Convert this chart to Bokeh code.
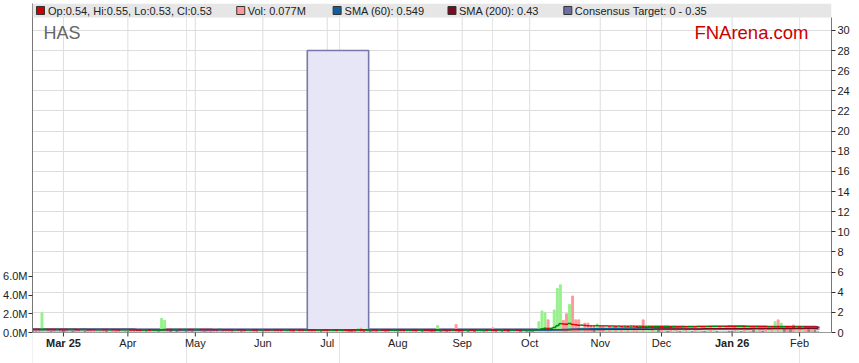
import numpy as np
import pandas as pd
from bokeh.plotting import figure
from bokeh.models import (LinearAxis, Range1d, FixedTicker, BoxAnnotation, Label,
                          CustomJSTickFormatter)
from bokeh.embed import file_html
from bokeh.resources import INLINE

# ---------------- data ----------------
START = "2025-02-17"   # first trading day shown (index 0, weekday axis)

month_tick_dates = ["2025-03-03", "2025-04-01", "2025-05-01", "2025-06-02", "2025-07-01",
                    "2025-08-01", "2025-09-01", "2025-10-01", "2025-11-03", "2025-12-01",
                    "2026-01-01", "2026-02-02"]
month_tick_labels = ["Mar 25", "Apr", "May", "Jun", "Jul", "Aug", "Sep", "Oct", "Nov",
                     "Dec", "Jan 26", "Feb"]
bold_labels = ["Mar 25", "Jan 26"]

# daily closes (A$)
close_feb25 = [0.30, 0.30, 0.29, 0.31, 0.32, 0.31, 0.31, 0.30, 0.31, 0.30]
close_mar25 = [0.30, 0.29, 0.30, 0.30, 0.29, 0.28, 0.29, 0.29, 0.28, 0.28, 0.27, 0.28, 0.28,
               0.27, 0.27, 0.28, 0.27, 0.27, 0.26, 0.27, 0.27]
close_apr25 = [0.27, 0.26, 0.26, 0.25, 0.24, 0.25, 0.25, 0.24, 0.25, 0.26, 0.26, 0.28, 0.30,
               0.29, 0.29, 0.30, 0.30, 0.29, 0.30, 0.30, 0.29, 0.29]
close_may25 = [0.30, 0.31, 0.30, 0.30, 0.29, 0.29, 0.28, 0.28, 0.29, 0.28, 0.28, 0.27, 0.27,
               0.28, 0.27, 0.27, 0.26, 0.27, 0.27, 0.26, 0.26, 0.27]
close_jun25 = [0.27, 0.26, 0.26, 0.27, 0.26, 0.26, 0.25, 0.26, 0.26, 0.25, 0.25, 0.26, 0.25,
               0.25, 0.26, 0.25, 0.25, 0.24, 0.25, 0.25, 0.24]
close_jul25 = [0.24, 0.25, 0.25, 0.24, 0.25, 0.25, 0.24, 0.24, 0.24, 0.24, 0.26, 0.25, 0.25,
               0.26, 0.26, 0.25, 0.25, 0.26, 0.25, 0.25, 0.24, 0.25, 0.25]
close_aug25 = [0.25, 0.24, 0.24, 0.25, 0.25, 0.24, 0.24, 0.25, 0.25, 0.24, 0.24, 0.24, 0.24,
               0.26, 0.26, 0.25, 0.25, 0.25, 0.26, 0.24, 0.24]
close_sep25 = [0.24, 0.25, 0.25, 0.24, 0.24, 0.25, 0.25, 0.25, 0.24, 0.25, 0.24, 0.24, 0.25,
               0.25, 0.24, 0.24, 0.25, 0.26, 0.25, 0.25, 0.26, 0.26]
close_oct25 = [0.26, 0.26, 0.27, 0.30, 0.36, 0.42, 0.40, 0.41, 0.50, 0.68, 0.88, 0.85, 0.82,
               0.90, 0.80, 0.76, 0.72, 0.73, 0.70, 0.67, 0.66, 0.66, 0.68]
close_nov25 = [0.66, 0.65, 0.66, 0.64, 0.65, 0.63, 0.64, 0.62, 0.63, 0.62, 0.64, 0.63, 0.62,
               0.63, 0.60, 0.61, 0.62, 0.61, 0.62, 0.62]
close_dec25 = [0.61, 0.62, 0.62, 0.60, 0.61, 0.60, 0.60, 0.61, 0.59, 0.60, 0.60, 0.59, 0.60,
               0.59, 0.59, 0.60, 0.58, 0.59, 0.59, 0.58, 0.59, 0.58, 0.58]
close_jan26 = [0.58, 0.57, 0.58, 0.58, 0.57, 0.58, 0.57, 0.57, 0.58, 0.57, 0.57, 0.56, 0.57,
               0.56, 0.58, 0.56, 0.57, 0.57, 0.56, 0.56, 0.55, 0.56]
close_feb26 = [0.55, 0.56, 0.55, 0.55, 0.54, 0.54, 0.53]

# daily volume (millions of shares)
vol_feb25 = [0.12, 0.08, 0.15, 2.10, 0.35, 0.18, 0.10, 0.22, 0.16, 0.20]
vol_mar25 = [0.25, 0.18, 0.12, 0.10, 0.20, 0.15, 0.08, 0.12, 0.18, 0.06, 0.10, 0.14, 0.05,
             0.09, 0.12, 0.08, 0.10, 0.07, 0.15, 0.11, 0.06]
vol_apr25 = [0.10, 0.12, 0.06, 0.15, 0.20, 0.12, 0.08, 0.10, 0.14, 0.18, 0.09, 1.50, 1.30,
             0.35, 0.20, 0.30, 0.25, 0.15, 0.22, 0.12, 0.18, 0.10]
vol_may25 = [0.30, 0.20, 0.15, 0.10, 0.18, 0.08, 0.12, 0.06, 0.10, 0.14, 0.05, 0.12, 0.08,
             0.10, 0.06, 0.09, 0.12, 0.07, 0.05, 0.10, 0.08, 0.06]
vol_jun25 = [0.08, 0.12, 0.05, 0.09, 0.14, 0.06, 0.10, 0.07, 0.05, 0.12, 0.08, 0.06, 0.10,
             0.05, 0.08, 0.11, 0.06, 0.09, 0.07, 0.10, 0.06]
vol_jul25 = [0.06, 0.10, 0.05, 0.12, 0.08, 0.06, 0.10, 0.12, 0.30, 0.08, 0.42, 0.45, 0.10,
             0.40, 0.15, 0.12, 0.08, 0.10, 0.06, 0.09, 0.12, 0.07, 0.05]
vol_aug25 = [0.08, 0.12, 0.06, 0.10, 0.05, 0.14, 0.08, 0.06, 0.10, 0.12, 0.07, 0.15, 0.09,
             0.75, 0.12, 0.10, 0.18, 0.06, 0.10, 0.85, 0.20]
vol_sep25 = [0.10, 0.08, 0.12, 0.06, 0.15, 0.10, 0.05, 0.08, 0.12, 0.07, 0.50, 0.10, 0.06,
             0.12, 0.09, 0.18, 0.10, 0.22, 0.08, 0.15, 0.12, 0.10]
vol_oct25 = [0.10, 0.15, 0.20, 1.15, 2.30, 2.10, 1.35, 0.30, 2.40, 4.70, 5.10, 1.30, 2.00,
             3.00, 3.90, 1.35, 1.35, 0.50, 1.00, 1.00, 0.60, 0.50, 0.90]
vol_nov25 = [0.60, 0.50, 0.40, 0.55, 0.30, 0.60, 0.35, 0.50, 0.30, 0.45, 0.50, 0.30, 0.40,
             0.25, 1.35, 0.30, 0.40, 0.35, 0.30, 0.25]
vol_dec25 = [0.30, 0.25, 0.15, 0.35, 0.20, 0.28, 0.12, 0.30, 0.22, 0.18, 0.10, 0.25, 0.20,
             0.15, 0.12, 0.20, 0.30, 0.18, 0.12, 0.08, 0.15, 0.10, 0.12]
vol_jan26 = [0.15, 0.20, 0.25, 0.10, 0.30, 0.20, 0.15, 0.25, 0.30, 0.20, 0.15, 0.35, 0.20,
             0.30, 1.15, 1.35, 1.00, 0.30, 0.60, 0.25, 0.80, 0.40]
vol_feb26 = [0.50, 0.40, 0.45, 0.30, 0.35, 0.20, 0.077]

# consensus target (step): start date and level
cons_dates = ["2025-02-17", "2025-06-23", "2025-07-21"]
cons_values = [0.35, 28.0, 0.35]

legend_texts = ["Op:0.54, Hi:0.55, Lo:0.53, Cl:0.53", "Vol: 0.077M", "SMA (60): 0.549",
                "SMA (200): 0.43", "Consensus Target: 0 - 0.35"]
legend_colors = ["#CC0000", "#FF9999", "#0F5FA0", "#7A0A20", "#6E6EA6"]

# ---------------- assemble ----------------
close = np.array(close_feb25 + close_mar25 + close_apr25 + close_may25 + close_jun25 +
                 close_jul25 + close_aug25 + close_sep25 + close_oct25 + close_nov25 +
                 close_dec25 + close_jan26 + close_feb26)
vol = np.array(vol_feb25 + vol_mar25 + vol_apr25 + vol_may25 + vol_jun25 + vol_jul25 +
               vol_aug25 + vol_sep25 + vol_oct25 + vol_nov25 + vol_dec25 + vol_jan26 +
               vol_feb26) * 1e6
N = min(len(close), len(vol))
close, vol = close[:N], vol[:N]
xi = np.arange(N)

def bidx(d):
    return int(np.busday_count(START, d))

tick_idx = [bidx(d) for d in month_tick_dates]

prev = np.concatenate([[close[0]], close[:-1]])
diff = close - prev
UP, DN = "#008800", "#DD0000"
bar_cols, line_cols = [], []
last = DN
for d in diff:
    if d > 1e-9:
        bar_cols.append("#96F08C"); last = UP
    elif d < -1e-9:
        bar_cols.append("#FF9999"); last = DN
    else:
        bar_cols.append("#888888")
    line_cols.append(last)

sma60 = pd.Series(close).rolling(60, min_periods=1).mean().values
sma200 = pd.Series(close).rolling(200, min_periods=1).mean().values

# ---------------- geometry ----------------
W, H = 859, 363
FL, FR, FT = 31, 831, 3          # frame left / right / top (px)
BASE = 332                       # pixel row of the value-0 baseline
PX_PER_PRICE = 329 / 32.67
PX_PER_VOL = 329 / 35.19e6
X0, X1 = -0.09, 260.4
Y0, Y1 = -(H - BASE) / PX_PER_PRICE, (BASE - FT) / PX_PER_PRICE
V0, V1 = -(H - BASE) / PX_PER_VOL, (BASE - FT) / PX_PER_VOL

def X(px):
    return X0 + (px - FL) * (X1 - X0) / (FR - FL)

def Y(py):
    return (BASE - py) / PX_PER_PRICE

FONT = "Liberation Sans"

p = figure(width=W, height=H, output_backend="svg", toolbar_location=None,
           x_range=Range1d(X0, X1), y_range=Range1d(Y0, Y1), y_axis_location="right",
           x_axis_location=None,
           min_border_left=FL, min_border_right=W - FR, min_border_top=FT,
           min_border_bottom=0, outline_line_color=None,
           background_fill_color="white", border_fill_color="white")
p.extra_y_ranges = {"vol": Range1d(V0, V1)}

def style_axis(ax, standoff):
    ax.major_label_text_font_size = "11px"
    ax.major_label_text_font = FONT
    ax.major_label_text_color = "#222222"
    ax.major_tick_out = 4
    ax.major_tick_in = 0
    ax.minor_tick_out = 0
    ax.minor_tick_in = 0
    ax.major_label_standoff = standoff
    ax.major_tick_line_color = "#333333"

# right (price) axis
ra = p.yaxis[0]
ra.ticker = FixedTicker(ticks=list(range(0, 31, 2)))
ra.bounds = (0, Y(17))
style_axis(ra, 2)
ra.axis_line_color = "#777777"

# left (volume) axis
la = LinearAxis(y_range_name="vol", ticker=FixedTicker(ticks=[0, 2e6, 4e6, 6e6]),
                formatter=CustomJSTickFormatter(code="return (tick/1e6).toFixed(1) + 'M';"),
                bounds=(0, V1))
style_axis(la, 1)
la.axis_line_color = "#777777"
p.add_layout(la, "left")

p.ygrid.grid_line_color = "#DDDDDD"
p.ygrid.ticker = FixedTicker(ticks=list(range(2, 31, 2)))

# vertical month grid lines
p.segment(x0=tick_idx, y0=[0] * len(tick_idx), x1=tick_idx, y1=[Y1] * len(tick_idx),
          line_color="#DDDDDD", line_width=1, level="underlay")

# consensus target step area
c_idx = [bidx(d) - 0.5 for d in cons_dates] + [N - 0.5]
sx, sy = [], []
for k, v in enumerate(cons_values):
    sx += [c_idx[k], c_idx[k + 1]]
    sy += [v, v]
p.patch(sx + [sx[-1], sx[0]], sy + [0, 0], fill_color="#E6E6F6", line_color=None)
p.line(sx, sy, line_color="#7777AA", line_width=1.6)

# volume bars
p.vbar(x=xi, top=vol, bottom=0, width=0.62, color=bar_cols, y_range_name="vol")

# SMAs
p.line(xi, sma200, line_color="#7A0A20", line_width=1.5)
p.line(xi, sma60, line_color="#0F5FA0", line_width=1.5)

# price step line
hx0, hx1 = xi - 0.5, xi + 0.5
p.segment(x0=hx0, y0=close, x1=hx1, y1=close, line_color=line_cols, line_width=1.5)
p.segment(x0=hx0[1:], y0=prev[1:], x1=hx0[1:], y1=close[1:], line_color=line_cols[1:],
          line_width=1.5)

# bottom (time) axis: baseline, ticks and month labels
p.segment(x0=[X0], y0=[0], x1=[X1], y1=[0], line_color="#999999", line_width=1,
          level="overlay")
p.segment(x0=tick_idx, y0=[0] * len(tick_idx), x1=tick_idx, y1=[Y(336)] * len(tick_idx),
          line_color="#333333", line_width=1, level="overlay")
for t, l in zip(tick_idx, month_tick_labels):
    p.add_layout(Label(x=t, y=Y(342), text=l, text_font=FONT, text_font_size="11px",
                       text_font_style="bold" if l in bold_labels else "normal",
                       text_color="#222222", text_baseline="middle", text_align="center"))

# legend bar
p.add_layout(BoxAnnotation(left=X0, right=X1, bottom=Y(17), top=Y1,
                           fill_color="#E6E6E6", fill_alpha=1.0, line_color=None))
sq_px = [39, 239.5, 336, 451, 567]
tx_px = [46.5, 246.5, 343.5, 458, 574]
p.scatter([X(v) for v in sq_px], [Y(10)] * len(sq_px), marker="square", size=8,
          fill_color=legend_colors, line_color="#333333", line_width=1, level="overlay")
for t, px in zip(legend_texts, tx_px):
    p.add_layout(Label(x=X(px), y=Y(10.5), text=t, text_font=FONT, text_font_size="11px",
                       text_color="#222222", text_baseline="middle", text_align="left"))

# titles in plot
p.add_layout(Label(x=X(42), y=Y(32), text="HAS", text_font=FONT, text_font_size="18px",
                   text_color="#666666", text_baseline="middle", text_align="left"))
p.add_layout(Label(x=X(808), y=Y(32), text="FNArena.com", text_font=FONT,
                   text_font_size="18.5px", text_color="#CC0000", text_baseline="middle",
                   text_align="right"))

open("out.html", "w").write(file_html(p, INLINE))
